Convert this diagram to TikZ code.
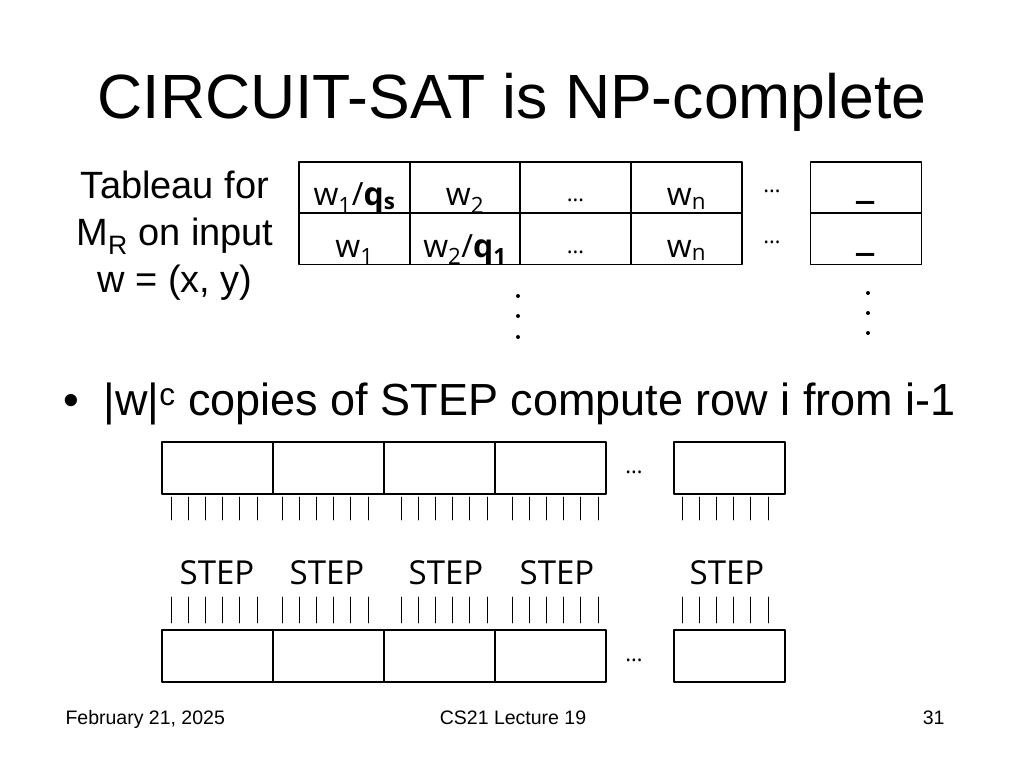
\documentclass[tikz,border=0pt]{standalone}
\usepackage{fontspec}
\setmainfont{Liberation Sans}
\newfontfamily\cellfont{Open Sans}
\begin{document}
\begin{tikzpicture}[x=1pt,y=-1pt,line join=round,line cap=round,
	cell/.style={draw,line width=1.4pt,minimum width=111pt,minimum height=51pt,inner sep=0pt},
	box/.style={draw,line width=1.2pt,minimum width=111pt,minimum height=52pt,inner sep=0pt},
	entry/.style={anchor=base,font=\cellfont\fontsize{32}{38}\selectfont},
	blank/.style={anchor=base,font=\cellfont\bfseries\fontsize{44}{50}\selectfont},
	gap/.style={anchor=base,font=\cellfont\fontsize{22}{26}\selectfont},
	stepname/.style={anchor=base,font=\cellfont\fontsize{33}{40}\selectfont},
	pin/.style={line width=0.9pt}]
	\useasboundingbox (0,0) rectangle (1024,768);
	\node[anchor=base,font=\fontsize{62.5}{75}\selectfont] (title) at (512,118) {CIRCUIT-SAT is NP-complete};
	% tableau
	\node[anchor=base,align=center,font=\fontsize{38}{47}\selectfont] (tabl) at (175,292) {Tableau for\\M\textsubscript{R} on input\\w = (x, y)};
	\foreach \c/\x in {1/354.5,2/465,3/575.5,4/686.5,5/866}
	\foreach \r/\y in {1/187.5,2/239}
	\node[cell] (t\r\c) at (\x,\y) {};
	\node[entry] (e11) at ([yshift=8pt]t11.south) {w\textsubscript{1}/\textbf{q\textsubscript{s}}};
	\node[entry] (e12) at ([yshift=8pt]t12.south) {w\textsubscript{2}};
	\node[gap] (e13) at ([yshift=12pt]t13.south) {…};
	\node[entry] (e14) at ([yshift=8pt]t14.south) {w\textsubscript{n}};
	\node[blank] (e15) at ([yshift=16pt]t15.south) {\_};
	\node[entry] (e21) at ([yshift=8pt]t21.south) {w\textsubscript{1}};
	\node[entry] (e22) at ([yshift=8pt]t22.south) {w\textsubscript{2}/\textbf{q\textsubscript{1}}};
	\node[gap] (e23) at ([yshift=12pt]t23.south) {…};
	\node[entry] (e24) at ([yshift=8pt]t24.south) {w\textsubscript{n}};
	\node[blank] (e25) at ([yshift=16pt]t25.south) {\_};
	\node[gap] (more1) at (772,192) {…};
	\node[gap] (more2) at (772,243) {…};
	\foreach \y in {296,316,337}
	\fill (518,\y) circle (2pt);
	\foreach \y in {293,313,333}
	\fill (868,\y) circle (2pt);
	% bullet
	\node[anchor=base west,font=\fontsize{45}{54}\selectfont] (dot) at (60,415) {•};
	\node[anchor=base west,font=\fontsize{45}{54}\selectfont] (copies) at (100,415) {|w|\textsuperscript{c} copies of STEP compute row i from i-1};
	% rows of STEP circuits
	\foreach \i/\x in {1/217.5,2/328.5,3/439.5,4/550.5,5/729.5} {
		\node[box] (b\i) at (\x,468) {};
		\node[box] (c\i) at (\x,656) {};
	}
	\foreach \i/\x in {1/217,2/327,3/446,4/557,5/727}
	\node[stepname] (s\i) at (\x,584) {STEP};
	\foreach \s in {171,282,401,512,682}
	\foreach \k in {0,...,5} {
		\draw[pin] ({\s+17.2*\k},497) -- ({\s+17.2*\k},520);
		\draw[pin] ({\s+17.2*\k},597) -- ({\s+17.2*\k},623);
	}
	\node[gap] (more3) at (634,473) {…};
	\node[gap] (more4) at (634,661) {…};
	% footer
	\node[anchor=base west,font=\fontsize{19.5}{23}\selectfont] (date) at (62,724) {February 21, 2025};
	\node[anchor=base,font=\fontsize{19.5}{23}\selectfont] (course) at (513,724) {CS21 Lecture 19};
	\node[anchor=base east,font=\fontsize{19.5}{23}\selectfont] (page) at (948,724) {31};
\end{tikzpicture}
\end{document}
